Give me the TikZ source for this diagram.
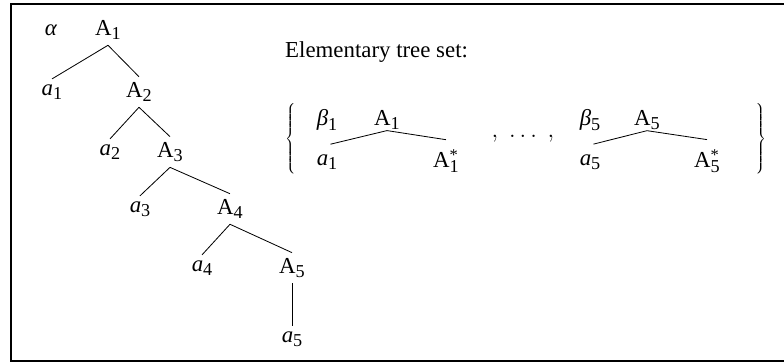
\documentclass[tikz,border=0pt]{standalone}
\usepackage{fontspec}
\setmainfont{Liberation Serif}
\tikzstyle{lbl} = [inner sep=4.5pt, font=\fontsize{19.5}{23}\selectfont]
\tikzstyle{edge} = [line width=0.7pt]
\tikzstyle{frame} = [line width=1.6pt]
\newcommand{\sub}[1]{\raisebox{-3.8pt}{\fontsize{15.5}{16}\selectfont #1}}
\newcommand{\NT}[1]{A\sub{#1}}
\newcommand{\NTs}[1]{A\rlap{\raisebox{6pt}{\fontsize{14}{15}\selectfont *}}\sub{#1}}
\newcommand{\LF}[1]{\textit{a}\sub{#1}}

\begin{document}
\begin{tikzpicture}[x=0.03cm,y=-0.03cm]
    \useasboundingbox (0,0) rectangle (784,363);
    \draw[frame] (790,4) -- (11,4) -- (11,361) -- (790,361);
    % derived tree
    \node[lbl] (alpha) at (51,30) {\textit{α}};
    \node[lbl] (A1) at (108,30) {\NT{1}};
    \node[lbl] (a1) at (52,92) {\LF{1}};
    \node[lbl] (A2) at (139,92) {\NT{2}};
    \node[lbl] (a2) at (110,152) {\LF{2}};
    \node[lbl] (A3) at (170,152) {\NT{3}};
    \node[lbl] (a3) at (140,209) {\LF{3}};
    \node[lbl] (A4) at (230,209) {\NT{4}};
    \node[lbl] (a4) at (202,268) {\LF{4}};
    \node[lbl] (A5) at (292,268) {\NT{5}};
    \node[lbl] (a5) at (292,339) {\LF{5}};
    \foreach \p/\l/\r in {A1/a1/A2,A2/a2/A3,A3/a3/A4,A4/a4/A5}{
        \draw[edge] (\p.south) -- (\l.north);
        \draw[edge] (\p.south) -- (\r.north);
    }
    \draw[edge] (A5.south) -- (a5.north);
    % elementary trees
    \node[lbl, inner sep=0pt, anchor=base west] (title) at (285,57) {Elementary tree set:};
    \node[lbl, inner sep=0pt] (lbrace) at (291,140) {$\left\{\vrule height 27pt depth 27pt width 0pt\right.$};
    \node[lbl, inner sep=0pt] (rbrace) at (760,140) {$\left.\vrule height 27pt depth 27pt width 0pt\right\}$};
    \node[lbl] (dots) at (523,139) {$,\;\ldots\;,$};
    \foreach \i/\x/\y/\z in {1/327/387/446,5/590/647/707}{
        \node[lbl] (beta\i) at (\x,120) {\textit{β}\sub{\i}};
        \node[lbl] (B\i) at (\y,120) {\NT{\i}};
        \node[lbl] (b\i) at (\x,162) {\LF{\i}};
        \node[lbl] (S\i) at (\z,161) {\NTs{\i}};
        \draw[edge] ([yshift=4pt]B\i.south) -- ([shift={(3pt,4pt)}]b\i.north);
        \draw[edge] ([yshift=4pt]B\i.south) -- ([yshift=4pt]S\i.north);
    }
\end{tikzpicture}
\end{document}
